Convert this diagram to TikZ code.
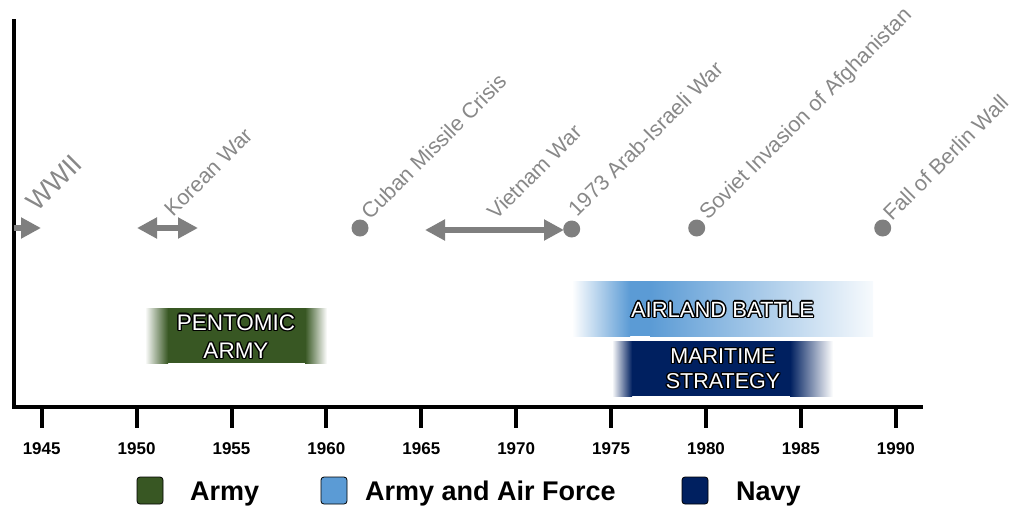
\documentclass[tikz,border=0pt]{standalone}
\usepackage{fontspec}
\setmainfont{Liberation Sans}
\usetikzlibrary{arrows.meta}
\definecolor{armygreen}{RGB}{56,87,35}
\definecolor{afblue}{RGB}{91,155,213}
\definecolor{navyblue}{RGB}{0,32,96}
\definecolor{evgray}{RGB}{127,127,127}
\definecolor{lblgray}{RGB}{136,136,136}
\newcommand\outl[1]{{\setbox0\hbox{#1}%
\rlap{\color{black}\kern1.4pt\copy0}%
\rlap{\color{black}\kern-1.4pt\copy0}%
\rlap{\color{black}\raise1.4pt\copy0}%
\rlap{\color{black}\lower1.4pt\copy0}%
\rlap{\color{black}\kern1pt\raise1pt\copy0}%
\rlap{\color{black}\kern-1pt\raise1pt\copy0}%
\rlap{\color{black}\kern1pt\lower1pt\copy0}%
\rlap{\color{black}\kern-1pt\lower1pt\copy0}%
\color{white}\copy0}}
\begin{document}
\begin{tikzpicture}[x=1pt,y=-1pt,
  axisline/.style={line width=4pt,black},
  tickline/.style={line width=4pt,black},
  yearlbl/.style={font=\fontsize{17}{20}\selectfont\bfseries,anchor=base,inner sep=0pt},
  dotnode/.style={circle,fill=evgray,minimum size=17pt,inner sep=0pt},
  evarrow/.style={line width=6pt,evgray},
  evlabel/.style={font=\fontsize{21.5}{26}\selectfont,text=lblgray,rotate=45,anchor=base west,inner sep=0pt},
  boxtext/.style={anchor=base,inner sep=0pt},
  legsq/.style={draw=black,line width=0.8pt,rounded corners=3pt,minimum width=26pt,minimum height=27pt,inner sep=0pt},
  legtext/.style={font=\fontsize{27}{32}\selectfont\bfseries,anchor=base west,inner sep=0pt}]
\useasboundingbox (0,0) rectangle (1018,507);

% axes
\coordinate (ytop) at (14,19);
\coordinate (origin) at (14,407);
\coordinate (xend) at (923,407);
\draw[axisline,line join=miter] (ytop) -- (origin) -- (xend);

% ticks and years
\foreach \i in {0,...,9}{
  \pgfmathsetmacro\xx{41.7+\i*94.9}
  \coordinate (t\i a) at (\xx,408);
  \coordinate (t\i b) at (\xx,428);
  \draw[tickline] (t\i a) -- (t\i b);
  \pgfmathtruncatemacro\yr{1945+5*\i}
  \node[yearlbl] (yr\i) at (\xx,454) {\yr};
}

% bands
\fill[left color=white,right color=armygreen] (145,308) rectangle (168,363);
\fill[armygreen] (168,308) rectangle (305,363);
\fill[left color=armygreen,right color=white] (305,308) rectangle (327,363);
\node[boxtext,font=\fontsize{22.5}{27}\selectfont] (pent1) at (236,330) {\outl{PENTOMIC}};
\node[boxtext,font=\fontsize{22.5}{27}\selectfont] (pent2) at (236,358.5) {\outl{ARMY}};

\fill[left color=white,right color=afblue] (572,281) rectangle (630,336);
\fill[afblue] (630,281) rectangle (650,336);
\fill[left color=afblue,right color=afblue!5] (650,281) rectangle (873,336);
\node[boxtext,font=\fontsize{22}{26}\selectfont] (air1) at (722.5,317) {\outl{AIRLAND BATTLE}};

\fill[left color=white,right color=navyblue] (612,341) rectangle (632,396);
\fill[navyblue] (632,341) rectangle (790,396);
\fill[left color=navyblue,right color=white] (790,341) rectangle (833,396);
\node[boxtext,font=\fontsize{21.5}{26}\selectfont] (mar1) at (723,363.5) {\outl{MARITIME}};
\node[boxtext,font=\fontsize{21.5}{26}\selectfont] (mar2) at (723,388.5) {\outl{STRATEGY}};

% events
\coordinate (ww2s) at (14,228);
\coordinate (ww2e) at (41,228);
\draw[evarrow,-{Triangle[length=20pt,width=20pt]}] (ww2s) -- (ww2e);
\coordinate (kors) at (137,228);
\coordinate (kore) at (198,228);
\draw[evarrow,{Triangle[length=20pt,width=20pt]}-{Triangle[length=20pt,width=20pt]}] (kors) -- (kore);
\coordinate (viets) at (425,230);
\coordinate (viete) at (564,230);
\draw[evarrow,{Triangle[length=20pt,width=20pt]}-{Triangle[length=20pt,width=20pt]}] (viets) -- (viete);

\node[dotnode] (cuban) at (360,228) {};
\node[dotnode] (arab) at (571.7,229) {};
\node[dotnode] (soviet) at (696.7,228) {};
\node[dotnode] (berlin) at (882.7,228) {};

\node[evlabel,font=\fontsize{27}{32}\selectfont] (lww2) at (37,213) {WWII};
\node[evlabel] (lkor) at (173,218) {Korean War};
\node[evlabel] (lcub) at (370,221) {Cuban Missile Crisis};
\node[evlabel] (lvie) at (496,221) {Vietnam War};
\node[evlabel] (larab) at (577,218) {1973 Arab-Israeli War};
\node[evlabel] (lsov) at (708,221) {Soviet Invasion of Afghanistan};
\node[evlabel] (lber) at (892,222) {Fall of Berlin Wall};

% legend
\node[legsq,fill=armygreen] (sqarmy) at (150,490.5) {};
\node[legtext] (tarmy) at (190,500.5) {Army};
\node[legsq,fill=afblue] (sqaf) at (334,490.5) {};
\node[legtext] (taf) at (365,500.5) {Army and Air Force};
\node[legsq,fill=navyblue] (sqnavy) at (695,490.5) {};
\node[legtext] (tnavy) at (736,500.5) {Navy};
\end{tikzpicture}
\end{document}
